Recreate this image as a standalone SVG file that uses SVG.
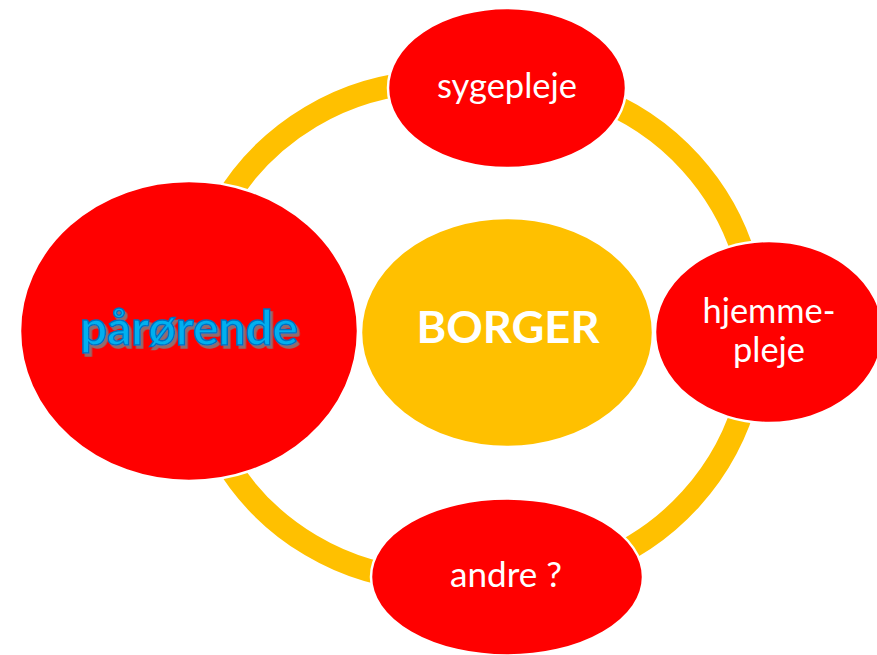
<svg xmlns="http://www.w3.org/2000/svg" width="877" height="655" viewBox="0 0 877 655">
<style>
.ring{fill:none;stroke:#FFC000;stroke-width:23}
.red{fill:#FF0000;stroke:#FFFFFF;stroke-width:2.5}
.yel{fill:#FFC000;stroke:#FFFFFF;stroke-width:2.5}
.lbl{font-family:Lato,"Open Sans","Liberation Sans",sans-serif;fill:#FFFFFF;text-anchor:middle}
.big{font-family:Lato,"Open Sans","Liberation Sans",sans-serif;font-weight:bold;text-anchor:middle}
</style>
<defs>
<filter id="shadow" x="-10%" y="-20%" width="120%" height="150%">
<feDropShadow dx="2.5" dy="3" stdDeviation="0.6" flood-color="#7F7F7F" flood-opacity="0.85"/>
</filter>
</defs>
<rect width="877" height="655" fill="#FFFFFF"/>
<g id="connectors">
<path class="ring" d="M223,205 A249,249 0 0 1 430,82"/>
<path class="ring" d="M223,457 A249,249 0 0 0 430,580"/>
<path class="ring" d="M590,95.5 A250,250 0 0 1 748,270"/>
<path class="ring" d="M748,392 A250,250 0 0 1 590,566.5"/>
</g>
<g id="node-borger">
<ellipse class="yel" cx="507" cy="332.5" rx="146" ry="114.5"/>
<text class="big" x="508" y="343" font-size="44" fill="#FFFFFF" textLength="183" lengthAdjust="spacingAndGlyphs">BORGER</text>
</g>
<g id="node-sygepleje">
<ellipse class="red" cx="507" cy="88" rx="119" ry="80"/>
<text class="lbl" x="507" y="98" font-size="35" textLength="140" lengthAdjust="spacingAndGlyphs">sygepleje</text>
</g>
<g id="node-hjemmepleje">
<ellipse class="red" cx="769" cy="332" rx="114" ry="91"/>
<text class="lbl" x="769" y="323" font-size="35" textLength="133" lengthAdjust="spacingAndGlyphs">hjemme-</text>
<text class="lbl" x="769" y="362" font-size="35" textLength="72" lengthAdjust="spacingAndGlyphs">pleje</text>
</g>
<g id="node-andre">
<ellipse class="red" cx="507" cy="577" rx="136" ry="78.5"/>
<text class="lbl" x="506" y="587" font-size="35" textLength="112" lengthAdjust="spacingAndGlyphs">andre ?</text>
</g>
<g id="node-parorende">
<ellipse class="red" cx="189" cy="331" rx="169" ry="150"/>
<text class="big" x="189" y="345" font-size="48" fill="#00B0F0" stroke="#0070C0" stroke-width="1.5" filter="url(#shadow)" textLength="218" lengthAdjust="spacingAndGlyphs">pårørende</text>
</g>
</svg>
